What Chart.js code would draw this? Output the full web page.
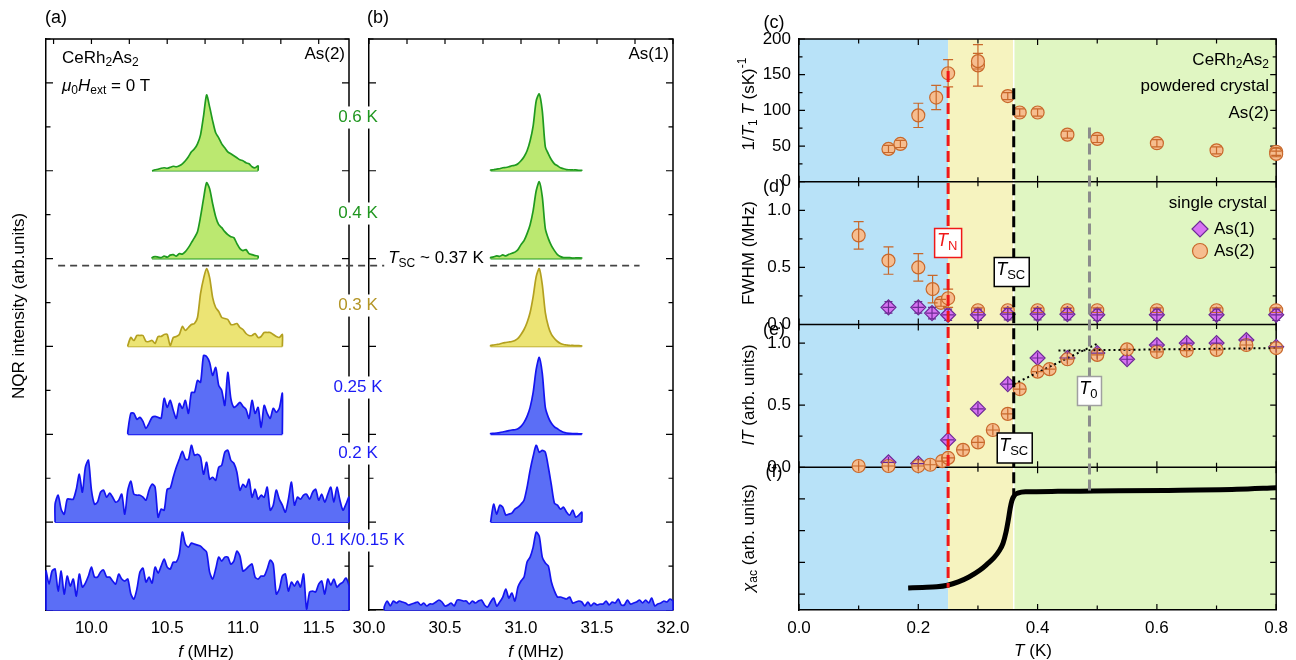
<!DOCTYPE html>
<html>
<head>
<meta charset="utf-8">
<script src="https://cdn.jsdelivr.net/npm/chart.js@4.4.1/dist/chart.umd.min.js"></script>
<style>
  html, body { margin:0; padding:0; background:#fff; }
  #fig { position:relative; width:1296px; height:660px; overflow:hidden; background:#fff; }
  #fig canvas { position:absolute; left:0; top:0; }
</style>
</head>
<body>
<div id="fig">
  <canvas id="chartA" width="1296" height="660"></canvas>
  <canvas id="chartB" width="1296" height="660"></canvas>
  <canvas id="chartR" width="1296" height="660"></canvas>
</div>
<script>
// ======================= DATA =======================
// Panels (a),(b): NQR spectra, intensity in arb. units, traces stacked with a fixed offset
const DF = 0.02;
const SPEC_OFFSET = 88;     // arb. units between stacked traces
const TEMPS = ['0.6 K', '0.4 K', '0.3 K', '0.25 K', '0.2 K', '0.1 K/0.15 K'];
const TRACE_KIND = ['green', 'green', 'yellow', 'blue', 'blue', 'blue'];
const A_START = [10.40, 10.40, 10.24, 10.24, 9.76, 9.70];   // MHz, first sample of each As(2) trace
const B_START = [30.80, 30.80, 30.80, 30.80, 30.80, 30.10]; // MHz, first sample of each As(1) trace

const A_06K = [0,1,1.5,2.5,3,2.5,3.5,4.5,4,5,7,10,14,19,22,27,36,55,76,64,50,38,33,27,23,19,17,15,13,11,10,8,7,4,3,5];
const A_04K = [1,2,1.5,1,2.5,1.5,3.5,4,2.5,5,4.5,7,11,16,21,27,42,60,76,70,55,42,34,31,27,24,22,21,15,10,8,9,5,4,3,2.5];
const A_03K = [1,9,6,11,11,11,5,5,6,3,10,10,12,12,1,9,10,12,20,16,19,22,23,29,53,68,78,69,49,39,35,29,28,27,22,22,23,19,17,13,11,11,13,9,10,14,14,14,12,10,9,12];
const A_025K = [3,21,21,15,17,13,6,11,17,18,17,16,36,27,34,24,16,31,26,34,21,42,42,54,52,79,78,72,59,67,49,44,29,62,36,27,29,32,28,25,16,34,21,27,7,29,21,16,26,22,26,41];
const A_02K = [18,27,13,8,23,23,23,33,48,30,55,62,32,18,20,30,32,25,29,25,20,22,28,8,32,41,28,27,27,25,22,32,38,35,5,13,12,33,34,45,55,63,71,63,63,77,67,68,65,48,60,43,45,42,55,57,70,72,62,59,50,32,38,35,43,25,33,23,27,25,35,12,17,32,23,17,10,23,40,17,25,23,27,28,23,30,33,22,28,20,28,35,20,35,22,12,18,25];
const A_01K = [39,26,39,41,19,39,16,34,24,31,14,36,23,27,34,43,33,33,38,40,33,33,29,26,36,31,29,31,16,11,21,38,42,28,33,27,43,37,44,51,43,41,48,48,56,78,66,63,67,66,65,64,61,58,38,31,41,53,49,53,53,46,49,59,54,39,41,44,46,33,31,34,34,41,50,46,16,21,34,36,19,28,24,29,23,36,1,18,19,18,26,29,16,31,25,31,23,26,28,32,24];

const B_06K = [0.7,1,1.7,2,3,3.3,4,5,5.5,7,10,14,20,30,45,70,77,60,24,17,11,7,5,3,2,1.2,1,0.8,0.8,0.5,0.5];
const B_04K = [1,1.7,2.7,2.3,3.7,2.7,4.3,5.3,6.5,9,14,18,25,34,48,68,77,62,30,20,13,8,4,2,1,1,1,0.5,0.7,0.8,0.5];
const B_03K = [1,1.5,2,2.5,3.5,4,4.5,5,6,8,12,17,24,34,50,70,78,62,34,20,12,8,5,3,2,1.5,1,1,0.8,0.8,0.5];
const B_025K = [0.7,1,1.3,1.7,2.3,3,3.7,4.3,4.6,5.5,8,12,18,27,42,65,77,61,27,17,11,7.5,5.5,3.5,2,1.3,1,0.8,0.7,0.5,0.4];
const B_02K = [0,18,8,17,15,7,8,9,13,15,18,22,35,52,66,77,70,72,70,55,37,19,17,13,15,10,7,12,5,7,10];
const B_01K = [3,9,4,9,7,9,8,7,5,6,7,8,5,7,4,6,6,8,10,8,4,5,7,4,10,10,9,9,6,9,7,9,10,5,3,8,12,4,8,13,21,12,17,9,23,29,33,48,53,63,78,74,53,47,44,28,19,13,13,12,11,13,7,8,9,8,4,8,4,7,5,6,6,9,5,8,7,11,5,5,10,6,7,8,10,7,10,7,12,4,6,7,9,8,11,9];

const A_TRACES = [A_06K, A_04K, A_03K, A_025K, A_02K, A_01K];
const B_TRACES = [B_06K, B_04K, B_03K, B_025K, B_02K, B_01K];

const A_X_TICKS = [10.0, 10.5, 11.0, 11.5];
const A_X_MINOR = [9.75, 10.25, 10.75, 11.25];
const B_X_TICKS = [30.0, 30.5, 31.0, 31.5, 32.0];
const B_X_MINOR = [30.25, 30.75, 31.25, 31.75];
const SPEC_Y_TICKS = [0,44,88,132,176,220,264,308,352,396,440,484,528,572];
const TSC_LEVEL = 345;      // arb. units, level of the T_SC ~ 0.37 K separator

// Panels (c)-(f): temperature dependences
const T_N = 0.25, T_SC = 0.36, T_0 = 0.487;   // K
const R_X_TICKS = [0.0, 0.2, 0.4, 0.6, 0.8];
const R_X_MINOR = [0.1, 0.3, 0.5, 0.7];

// (c) 1/T1T, As(2) powdered crystal
const C_T   = [0.15,0.17,0.20,0.23,0.25,0.30,0.30,0.35,0.37,0.40,0.45,0.50,0.60,0.70,0.80,0.80];
const C_V   = [46,53,93,118,152,163,169,120,97,97,66,60,54,44,42,39];
const C_ERR = [5,5,17,17,19,29,11,5,5,5,5,5,5,5,5,4];
const C_Y_TICKS = [0,50,100,150,200];
const C_Y_MINOR = [25,75,125,175];

// (d) FWHM single crystal
const D1_T   = [0.15,0.20,0.223,0.25,0.30,0.35,0.40,0.45,0.50,0.60,0.70,0.80];
const D1_V   = [0.15,0.15,0.10,0.085,0.085,0.09,0.09,0.09,0.085,0.085,0.085,0.085];
const D1_ERR = [0.05,0.05,0.05,0.05,0.05,0.05,0.05,0.05,0.05,0.05,0.05,0.05];
const D2_T   = [0.10,0.15,0.20,0.224,0.238,0.25,0.30,0.35,0.40,0.45,0.50,0.60,0.70,0.80];
const D2_V   = [0.78,0.56,0.50,0.31,0.19,0.23,0.125,0.125,0.125,0.125,0.125,0.125,0.125,0.125];
const D2_ERR = [0.12,0.12,0.12,0.12,0.03,0.08,0.02,0.02,0.02,0.02,0.02,0.02,0.02,0.02];
const D_Y_TICKS = [0.0,0.5,1.0];
const D_Y_MINOR = [0.25,0.75];

// (e) IT
const E1_T = [0.15,0.20,0.25,0.30,0.35,0.40,0.45,0.50,0.55,0.60,0.65,0.70,0.75,0.80];
const E1_V = [0.04,0.03,0.22,0.47,0.67,0.88,0.88,0.92,0.87,0.985,1.0,1.0,1.025,0.97];
const E2_T = [0.10,0.15,0.20,0.22,0.24,0.25,0.275,0.30,0.325,0.35,0.37,0.40,0.42,0.45,0.50,0.55,0.60,0.65,0.70,0.75,0.80];
const E2_V = [0.01,0.01,0.01,0.02,0.05,0.075,0.14,0.20,0.30,0.43,0.63,0.77,0.79,0.87,0.905,0.95,0.93,0.94,0.945,0.985,0.96];
const E_ERR = 0.045;        // IT error (both series)
const T_ERR = 0.01;         // K, temperature error
const E_FIT1_T = [0.36, 0.50], E_FIT1_V = [0.67, 0.995];
const E_FIT2_T = [0.435, 0.80], E_FIT2_V = [0.94, 0.96];
const E_Y_TICKS = [0.0,0.5,1.0];
const E_Y_MINOR = [0.25,0.75];

// (f) chi_ac
const F_T   = [0.183,0.207,0.231,0.249,0.267,0.285,0.303,0.315,0.327,0.336,0.342,0.347,0.351,0.354,0.357,0.361,0.368,0.38,0.434,0.494,0.614,0.734,0.80];
const F_CHI = [-0.761,-0.758,-0.754,-0.744,-0.723,-0.692,-0.650,-0.612,-0.570,-0.525,-0.48,-0.41,-0.33,-0.26,-0.21,-0.178,-0.162,-0.155,-0.152,-0.150,-0.146,-0.139,-0.129];
const F_Y_TICKS = [-0.2,-0.4,-0.6,-0.8];

// ======================= STYLE =======================
const FONT = '"Liberation Sans", Arial, Helvetica, sans-serif';
Chart.defaults.font.family = FONT;
Chart.defaults.font.size = 17;
Chart.defaults.color = '#000';

const TRACE_COL = {
  green:  { line: '#1f9a1f', fill: '#bbe870', text: '#1f961f' },
  yellow: { line: '#b3a020', fill: '#ece474', text: '#b39526' },
  blue:   { line: '#1414f0', fill: '#5b6ef6', text: '#1a1af5' }
};
const BG_BLUE = '#b8e2f8', BG_YEL = '#f6f3bf', BG_GRN = '#e0f6c2';
const OR_FILL = '#f6bd8f', OR_EDGE = '#c8682b';
const PU_FILL = '#d772f2', PU_EDGE = '#6c2a94';

function drawRich(ctx, x, y, parts, o = {}) {
  const size = o.size || 17;
  ctx.save();
  ctx.translate(x, y);
  if (o.rotate) ctx.rotate(o.rotate);
  const segs = []; let w = 0;
  for (const p of parts) {
    const t = p[0], st = p[1] || '';
    const small = st.includes('sub') || st.includes('sup');
    const fs = small ? Math.round(size * 0.7) : size;
    const font = (st.includes('it') ? 'italic ' : '') + fs + 'px ' + FONT;
    ctx.font = font;
    const tw = ctx.measureText(t).width;
    const dy = st.includes('sub') ? size * 0.3 : st.includes('sup') ? -size * 0.4 : 0;
    segs.push({ t, font, tw, dy }); w += tw;
  }
  let cx = o.align === 'center' ? -w / 2 : o.align === 'right' ? -w : 0;
  if (o.bg) {
    const p = o.bgPad == null ? 2 : o.bgPad;
    ctx.fillStyle = o.bg;
    ctx.fillRect(cx - p, -size * 0.62, w + 2 * p, size * 1.3);
  }
  ctx.fillStyle = o.color || '#000';
  ctx.textBaseline = 'middle';
  ctx.textAlign = 'left';
  for (const s of segs) { ctx.font = s.font; ctx.fillText(s.t, cx, s.dy); cx += s.tw; }
  ctx.restore();
  return w;
}

function labelBox(ctx, cx, cy, w, h, edge, parts, color) {
  ctx.save();
  ctx.fillStyle = '#fff';
  ctx.fillRect(cx - w / 2, cy - h / 2, w, h);
  ctx.strokeStyle = edge; ctx.lineWidth = 1.5;
  ctx.strokeRect(cx - w / 2, cy - h / 2, w, h);
  ctx.restore();
  drawRich(ctx, cx - 1, cy - 2, parts, { align: 'center', color, size: 18 });
}

// ======================= SPECTRA PANELS =======================
function spectraDatasets(traces, starts) {
  const out = [];
  traces.forEach((vals, k) => {
    const lvl = (traces.length - 1 - k) * SPEC_OFFSET;
    const col = TRACE_COL[TRACE_KIND[k]];
    const f0 = starts[k];
    const fEnd = f0 + (vals.length - 1) * DF;
    const pts = vals.map((v, i) => ({ x: f0 + i * DF, y: lvl + v }));
    out.push({
      data: [{ x: f0, y: lvl }, ...pts, { x: fEnd, y: lvl }],
      borderColor: col.line, backgroundColor: col.fill, borderWidth: 1.7,
      fill: { value: lvl }, pointRadius: 0, tension: 0.25, clip: false
    });
    out.push({
      data: [{ x: f0, y: lvl }, { x: fEnd, y: lvl }],
      borderColor: col.line, borderWidth: 1.7, fill: false, pointRadius: 0, clip: false
    });
  });
  return out;
}

function spectraFrame(name, xTicks, xMinor) {
  return {
    id: 'frame' + name,
    beforeDatasetsDraw(chart) {
      const { ctx, chartArea: a, scales: { x, y } } = chart;
      ctx.save();
      ctx.strokeStyle = '#000'; ctx.lineWidth = 1.2;
      ctx.beginPath();
      for (const v of SPEC_Y_TICKS) {
        const py = y.getPixelForValue(v);
        const L = (v % SPEC_OFFSET === 0) ? 7 : 4.5;
        ctx.moveTo(a.left, py); ctx.lineTo(a.left + L, py);
        ctx.moveTo(a.right, py); ctx.lineTo(a.right - L, py);
      }
      for (const v of xTicks.concat(xMinor)) {
        const px = x.getPixelForValue(v);
        ctx.moveTo(px, a.top); ctx.lineTo(px, a.top + 5);
      }
      ctx.stroke();
      ctx.lineWidth = 1.5;
      ctx.beginPath();
      ctx.moveTo(a.left, a.top); ctx.lineTo(a.right, a.top); ctx.lineTo(a.right, a.bottom);
      ctx.stroke();
      ctx.restore();
    }
  };
}

function spectraOptions(xmin, xmax, xTicks, padL, axisW, padR) {
  return {
    responsive: false, animation: false, devicePixelRatio: 1, events: [],
    layout: { padding: { left: padL, right: padR, top: 39, bottom: 0 } },
    plugins: { legend: { display: false }, tooltip: { enabled: false } },
    scales: {
      x: {
        type: 'linear', min: xmin, max: xmax,
        afterBuildTicks: s => { s.ticks = xTicks.map(v => ({ value: v })); },
        ticks: { callback: v => v.toFixed(1), font: { size: 17 }, padding: 8, autoSkip: false, maxRotation: 0 },
        grid: { display: false, drawTicks: false },
        border: { display: true, color: '#000', width: 1.5 },
        afterFit: s => { s.height = 50; }
      },
      y: {
        type: 'linear', min: 0, max: 6.5 * SPEC_OFFSET,
        ticks: { display: false },
        grid: { display: false, drawTicks: false },
        border: { display: true, color: '#000', width: 1.5 },
        afterFit: s => { s.width = axisW; }
      }
    }
  };
}

const chartA = new Chart(document.getElementById('chartA'), {
  type: 'line',
  data: { datasets: spectraDatasets(A_TRACES, A_START) },
  options: spectraOptions(9.7, 11.7, A_X_TICKS, 0, 46, 947),
  plugins: [spectraFrame('A', A_X_TICKS, A_X_MINOR), {
    id: 'textA',
    afterDraw(chart) {
      const { ctx } = chart;
      drawRich(ctx, 56, 18, [['(a)']], { align: 'center', size: 18 });
      drawRich(ctx, 62, 58, [['CeRh'], ['2', 'sub'], ['As'], ['2', 'sub']]);
      drawRich(ctx, 62, 86, [['μ', 'it'], ['0', 'sub'], ['H', 'it'], ['ext', 'sub'], [' = 0 T']]);
      drawRich(ctx, 345, 54, [['As(2)']], { align: 'right' });
      drawRich(ctx, 19, 306, [['NQR intensity (arb.units)']], { align: 'center', rotate: -Math.PI / 2 });
      drawRich(ctx, 206, 652, [['f', 'it'], [' (MHz)']], { align: 'center' });
    }
  }]
});

const chartB = new Chart(document.getElementById('chartB'), {
  type: 'line',
  data: { datasets: spectraDatasets(B_TRACES, B_START) },
  options: spectraOptions(30.0, 32.0, B_X_TICKS, 360, 9, 623),
  plugins: [spectraFrame('B', B_X_TICKS, B_X_MINOR), {
    id: 'textB',
    afterDraw(chart) {
      const { ctx, scales: { x, y } } = chart;
      // T_SC separator spanning panels (a) and (b)
      const yl = y.getPixelForValue(TSC_LEVEL);
      const xl0 = chartA.scales.x.getPixelForValue(9.78);
      const xl1 = x.getPixelForValue(31.78);
      ctx.save();
      ctx.strokeStyle = '#444'; ctx.lineWidth = 1.6; ctx.setLineDash([7, 5]);
      ctx.beginPath(); ctx.moveTo(xl0, yl); ctx.lineTo(xl1, yl); ctx.stroke();
      ctx.restore();
      drawRich(ctx, 436, yl - 7, [['T', 'it'], ['SC', 'sub'], [' ~ 0.37 K']], { align: 'center', bg: '#fff', bgPad: 4 });
      // temperature labels
      const labY = [117, 213, 305, 387, 453, 540];
      TEMPS.forEach((t, k) => {
        drawRich(ctx, 358, labY[k], [[t]], { align: 'center', color: TRACE_COL[TRACE_KIND[k]].text, bg: '#fff', bgPad: 1 });
      });
      drawRich(ctx, 378, 18, [['(b)']], { align: 'center', size: 18 });
      drawRich(ctx, 669, 54, [['As(1)']], { align: 'right' });
      drawRich(ctx, 536, 652, [['f', 'it'], [' (MHz)']], { align: 'center' });
    }
  }]
});

// ======================= TEMPERATURE PANELS =======================
const pts = (xs, ys) => xs.map((t, i) => ({ x: t, y: ys[i] }));

function yAxis(min, max, ticks, weight, fmt) {
  return {
    type: 'linear', position: 'left', stack: 'r', stackWeight: 1, weight, min, max,
    afterBuildTicks: s => { s.ticks = ticks.map(v => ({ value: v })); },
    ticks: { display: !!fmt, callback: fmt, font: { size: 17 }, padding: 8, autoSkip: false },
    grid: { display: false, drawTicks: false },
    border: { display: true, color: '#000', width: 1.5 },
    afterFit: s => { s.width = 109; }
  };
}

const marker = (fill, edge, style) => ({
  showLine: false, pointStyle: style, pointRadius: style === 'rectRot' ? 7.5 : 6.5,
  pointBackgroundColor: fill, pointBorderColor: edge, pointBorderWidth: 1.2, clip: false
});

const rPlugin = {
  id: 'rPanels',
  beforeDraw(chart) {
    const { ctx, chartArea: a, scales: { x } } = chart;
    ctx.save();
    const bands = [[0, T_N, BG_BLUE], [T_N, T_SC, BG_YEL], [T_SC, 0.8, BG_GRN]];
    for (const [t0, t1, c] of bands) {
      const x0 = x.getPixelForValue(t0), x1 = x.getPixelForValue(t1);
      ctx.fillStyle = c; ctx.fillRect(x0, a.top, x1 - x0, a.bottom - a.top);
    }
    const xs = x.getPixelForValue(T_SC);
    ctx.strokeStyle = '#fff'; ctx.lineWidth = 1.5;
    ctx.beginPath(); ctx.moveTo(xs, a.top); ctx.lineTo(xs, a.bottom); ctx.stroke();
    ctx.restore();
  },
  beforeDatasetsDraw(chart) {
    const { ctx, chartArea: a, scales: s } = chart;
    const x = s.x;
    ctx.save();
    ctx.strokeStyle = '#000'; ctx.lineWidth = 1.2;
    ctx.beginPath();
    const defs = [[s.yc, C_Y_TICKS, C_Y_MINOR], [s.yd, D_Y_TICKS, D_Y_MINOR], [s.ye, E_Y_TICKS, E_Y_MINOR], [s.yf, F_Y_TICKS, []]];
    for (const [sc, maj, mnr] of defs) {
      const hv = (v, L) => { const py = sc.getPixelForValue(v); ctx.moveTo(a.left, py); ctx.lineTo(a.left + L, py); ctx.moveTo(a.right, py); ctx.lineTo(a.right - L, py); };
      maj.forEach(v => hv(v, 6)); mnr.forEach(v => hv(v, 3.5));
      const vt = (v, L) => { const px = x.getPixelForValue(v); ctx.moveTo(px, sc.top); ctx.lineTo(px, sc.top + L); ctx.moveTo(px, sc.bottom); ctx.lineTo(px, sc.bottom - L); };
      R_X_TICKS.forEach(v => vt(v, 6)); R_X_MINOR.forEach(v => vt(v, 4.5));
    }
    ctx.stroke();
    ctx.lineWidth = 1.5;
    ctx.beginPath();
    for (const sc of [s.yd, s.ye, s.yf]) { ctx.moveTo(a.left, sc.top); ctx.lineTo(a.right, sc.top); }
    ctx.moveTo(a.left, a.top); ctx.lineTo(a.right, a.top); ctx.lineTo(a.right, a.bottom);
    ctx.stroke();
    ctx.restore();
  },
  afterDatasetsDraw(chart) {
    const { ctx, scales: s } = chart;
    const x = s.x;
    // error bars (y with optional caps, x without caps)
    chart.data.datasets.forEach((ds, di) => {
      if (!ds.errors) return;
      const sc = s[ds.yAxisID];
      const meta = chart.getDatasetMeta(di);
      const cap = ds.capW == null ? 5 : ds.capW;
      ctx.save();
      ctx.strokeStyle = ds.errColor; ctx.lineWidth = 1.2;
      ctx.beginPath();
      meta.data.forEach((p, i) => {
        const v = ds.data[i].y, t = ds.data[i].x;
        const e = Array.isArray(ds.errors) ? ds.errors[i] : ds.errors;
        const y1 = sc.getPixelForValue(v + e), y2 = sc.getPixelForValue(v - e);
        ctx.moveTo(p.x, y1); ctx.lineTo(p.x, y2);
        if (cap) {
          ctx.moveTo(p.x - cap, y1); ctx.lineTo(p.x + cap, y1);
          ctx.moveTo(p.x - cap, y2); ctx.lineTo(p.x + cap, y2);
        }
        if (ds.xErr) {
          const x1 = x.getPixelForValue(t - ds.xErr), x2 = x.getPixelForValue(t + ds.xErr);
          ctx.moveTo(x1, p.y); ctx.lineTo(x2, p.y);
        }
      });
      ctx.stroke();
      ctx.restore();
    });
    // vertical dashed transition lines
    const vline = (t, yTop, yBot, color) => {
      ctx.save(); ctx.strokeStyle = color; ctx.lineWidth = 3; ctx.setLineDash([11, 5]);
      const px = x.getPixelForValue(t);
      ctx.beginPath(); ctx.moveTo(px, yTop); ctx.lineTo(px, yBot); ctx.stroke(); ctx.restore();
    };
    vline(T_N, s.yc.getPixelForValue(155), s.yf.getPixelForValue(-0.76), '#f01818');
    vline(T_SC, s.yc.getPixelForValue(131), s.yf.getPixelForValue(-0.17), '#000');
    vline(T_0, s.yc.getPixelForValue(76), s.yf.getPixelForValue(-0.17), '#8c8c8c');
  },
  afterDraw(chart) {
    const { ctx, scales: s } = chart;
    const x = s.x;
    labelBox(ctx, x.getPixelForValue(T_N), 243, 27, 29, '#f01818', [['T', 'it'], ['N', 'sub']], '#f01818');
    labelBox(ctx, x.getPixelForValue(T_SC) - 2, 272, 35, 29, '#000', [['T', 'it'], ['SC', 'sub']], '#000');
    labelBox(ctx, x.getPixelForValue(T_SC) + 1, 448, 35, 30, '#000', [['T', 'it'], ['SC', 'sub']], '#000');
    labelBox(ctx, x.getPixelForValue(T_0), 391, 24, 29, '#a0a0a0', [['T', 'it'], ['0', 'sub']], '#000');
    // panel letters
    drawRich(ctx, 774, 23, [['(c)']], { align: 'center', size: 18 });
    drawRich(ctx, 774, 187, [['(d)']], { align: 'center', size: 18 });
    drawRich(ctx, 774, 330, [['(e)']], { align: 'center', size: 18 });
    drawRich(ctx, 774, 472, [['(f)']], { align: 'center', size: 18 });
    // axis titles
    const R = -Math.PI / 2;
    drawRich(ctx, 749, 104, [['1/'], ['T', 'it'], ['1', 'sub'], [' T', 'it'], [' (sK)'], ['-1', 'sup']], { align: 'center', rotate: R });
    drawRich(ctx, 749, 253, [['FWHM (MHz)']], { align: 'center', rotate: R });
    drawRich(ctx, 749, 395, [['IT', 'it'], [' (arb. units)']], { align: 'center', rotate: R });
    drawRich(ctx, 749, 538, [['χ', 'it'], ['ac', 'sub'], [' (arb. units)']], { align: 'center', rotate: R });
    drawRich(ctx, 1033, 651, [['T', 'it'], [' (K)']], { align: 'center' });
    // annotations
    drawRich(ctx, 1269, 60, [['CeRh'], ['2', 'sub'], ['As'], ['2', 'sub']], { align: 'right' });
    drawRich(ctx, 1269, 86, [['powdered crystal']], { align: 'right' });
    drawRich(ctx, 1269, 113, [['As(2)']], { align: 'right' });
    drawRich(ctx, 1267, 203, [['single crystal']], { align: 'right' });
    // legend
    ctx.save();
    ctx.fillStyle = PU_FILL; ctx.strokeStyle = PU_EDGE; ctx.lineWidth = 1.2;
    ctx.beginPath(); ctx.moveTo(1200, 221); ctx.lineTo(1208, 229); ctx.lineTo(1200, 237); ctx.lineTo(1192, 229); ctx.closePath(); ctx.fill(); ctx.stroke();
    ctx.fillStyle = OR_FILL; ctx.strokeStyle = OR_EDGE;
    ctx.beginPath(); ctx.arc(1200, 251, 7.5, 0, Math.PI * 2); ctx.fill(); ctx.stroke();
    ctx.restore();
    drawRich(ctx, 1214, 229, [['As(1)']]);
    drawRich(ctx, 1214, 251, [['As(2)']]);
  }
};

const chartR = new Chart(document.getElementById('chartR'), {
  type: 'line',
  data: {
    datasets: [
      { data: pts(F_T, F_CHI), yAxisID: 'yf', borderColor: '#000', borderWidth: 5, pointRadius: 0, fill: false, cubicInterpolationMode: 'monotone', order: 5, clip: false },
      Object.assign({ data: pts(C_T, C_V), yAxisID: 'yc', errors: C_ERR, errColor: OR_EDGE, order: 3 }, marker(OR_FILL, OR_EDGE, 'circle')),
      Object.assign({ data: pts(D2_T, D2_V), yAxisID: 'yd', errors: D2_ERR, errColor: OR_EDGE, order: 2 }, marker(OR_FILL, OR_EDGE, 'circle')),
      Object.assign({ data: pts(D1_T, D1_V), yAxisID: 'yd', errors: D1_ERR, capW: 4, xErr: T_ERR, errColor: PU_EDGE, order: 1 }, marker(PU_FILL, PU_EDGE, 'rectRot')),
      Object.assign({ data: pts(E1_T, E1_V), yAxisID: 'ye', errors: E_ERR, capW: 0, xErr: T_ERR, errColor: PU_EDGE, order: 2 }, marker(PU_FILL, PU_EDGE, 'rectRot')),
      Object.assign({ data: pts(E2_T, E2_V), yAxisID: 'ye', errors: E_ERR, capW: 0, xErr: T_ERR, errColor: OR_EDGE, order: 1 }, marker(OR_FILL, OR_EDGE, 'circle')),
      { data: pts(E_FIT1_T, E_FIT1_V), yAxisID: 'ye', borderColor: '#000', borderWidth: 2, borderDash: [2, 3], pointRadius: 0, fill: false, order: 0 },
      { data: pts(E_FIT2_T, E_FIT2_V), yAxisID: 'ye', borderColor: '#000', borderWidth: 2, borderDash: [2, 3], pointRadius: 0, fill: false, order: 0 }
    ]
  },
  options: {
    responsive: false, animation: false, devicePixelRatio: 1, events: [],
    layout: { padding: { left: 690, right: 15, top: 39, bottom: 0 } },
    plugins: { legend: { display: false }, tooltip: { enabled: false } },
    scales: {
      x: {
        type: 'linear', min: 0, max: 0.8,
        afterBuildTicks: s => { s.ticks = R_X_TICKS.map(v => ({ value: v })); },
        ticks: { callback: v => v.toFixed(1), font: { size: 17 }, padding: 8, autoSkip: false, maxRotation: 0 },
        grid: { display: false, drawTicks: false },
        border: { display: true, color: '#000', width: 1.5 },
        afterFit: s => { s.height = 50; }
      },
      yc: yAxis(0, 200, C_Y_TICKS, 4, v => String(v)),
      yd: yAxis(0, 1.25, D_Y_TICKS, 3, v => v.toFixed(1)),
      ye: yAxis(0, 1.15, E_Y_TICKS, 2, v => v.toFixed(1)),
      yf: yAxis(-0.9, 0, F_Y_TICKS, 1, null)
    }
  },
  plugins: [rPlugin]
});
</script>
</body>
</html>
